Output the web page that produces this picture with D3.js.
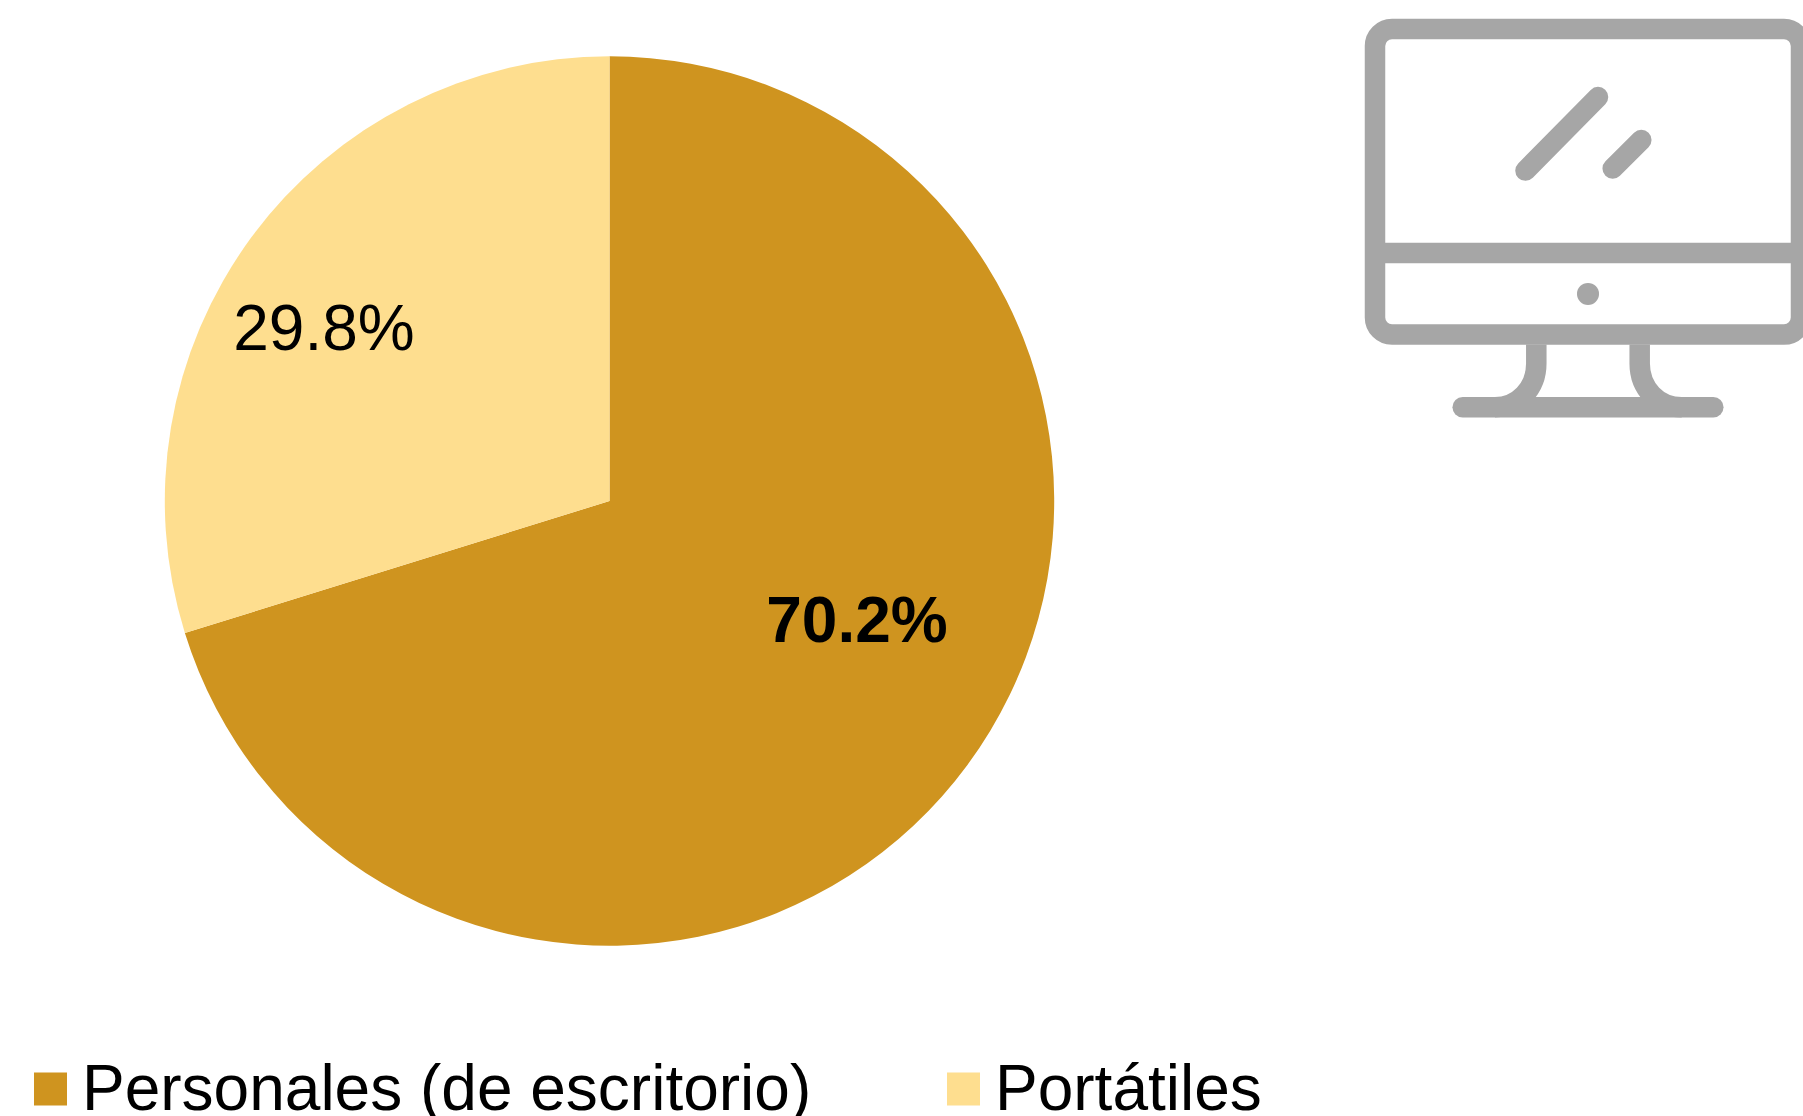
<!DOCTYPE html>
<html><head><meta charset="utf-8"><style>html,body{margin:0;padding:0;background:#fff;overflow:hidden}svg{display:block}text{font-family:"Liberation Sans",Arial,sans-serif;fill:#000}</style>
<script src="https://cdn.jsdelivr.net/npm/d3@7/dist/d3.min.js"></script></head><body><script>
const categories=["Personales (de escritorio)","Portátiles"];
const values=[70.2,29.8];
const labels=["70.2%","29.8%"];
const colors=["#CF941F","#FEDE8F"];
const W=1803,H=1116;
const svg=d3.select("body").append("svg").attr("width",W).attr("height",H);
const cx=609.5,cy=501,r=444.7;
const slices=d3.pie().sort(null).value(d=>d)(values);
const arc=d3.arc().innerRadius(0).outerRadius(r);
svg.append("g").attr("transform",`translate(${cx},${cy})`)
  .selectAll("path").data(slices).join("path").attr("d",arc).attr("fill",(d,i)=>colors[i]);
const labelPos=[[857,642],[324,350]];
svg.selectAll("text.lab").data(labels).join("text").attr("class","lab")
  .attr("x",(d,i)=>labelPos[i][0]).attr("y",(d,i)=>labelPos[i][1])
  .attr("text-anchor","middle").attr("font-size",64)
  .attr("font-weight",(d,i)=>i===0?"bold":"normal").text(d=>d);
const legendX=[[34,82],[947,995]];
categories.forEach((c,i)=>{
  svg.append("rect").attr("x",legendX[i][0]).attr("y",1072.5).attr("width",33).attr("height",33).attr("fill",colors[i]);
  svg.append("text").attr("x",legendX[i][1]).attr("y",1110).attr("font-size",64).text(c);
});
const icon=svg.append("g").attr("transform","translate(0,0.6)").attr("fill","none").attr("stroke","#A6A6A6").attr("stroke-width",20.5).attr("stroke-linecap","round");
icon.append("rect").attr("x",1375).attr("y",28.5).attr("width",426).attr("height",305.5).attr("rx",17).attr("ry",17);
icon.append("path").attr("stroke-linecap","butt").attr("d","M1375 252.5H1801");
icon.append("path").attr("d","M1598 96.5L1525.5 170M1641.3 139.5L1612.7 168");
icon.append("path").attr("stroke-linecap","butt").attr("d","M1536.3 344V363C1536.3 388 1518 406.7 1495 406.7M1639.7 344V363C1639.7 388 1658 406.7 1681.7 406.7");
icon.append("path").attr("d","M1462.7 406.7H1713.3");
icon.append("circle").attr("cx",1588).attr("cy",293.3).attr("r",11).attr("fill","#A6A6A6").attr("stroke","none");
</script></body></html>
